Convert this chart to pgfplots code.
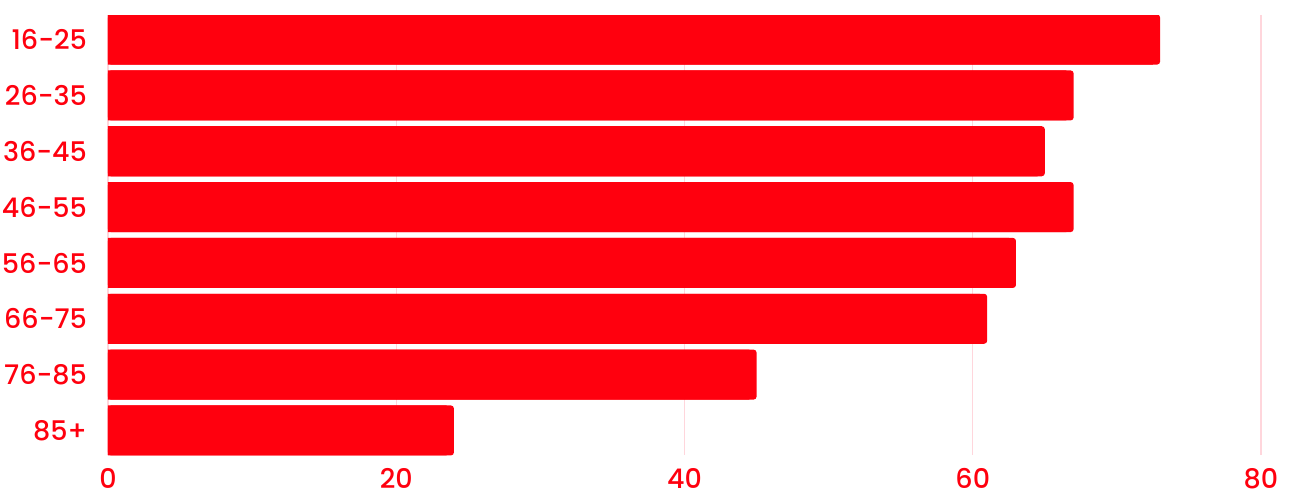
\documentclass[border=0pt]{standalone}
\usepackage{pgfplots}
\usepackage{pgfplotstable}
\pgfplotsset{compat=1.18}
\usepackage{fontspec}
\setmainfont{Poppins Medium}

\definecolor{barred}{RGB}{255,0,14}
\definecolor{gridpink}{RGB}{255,214,220}

\pgfplotstableread{
idx v
0 73
1 67
2 65
3 67
4 63
5 61
6 45
7 24
}\agedata

\begin{document}
\begin{tikzpicture}
\begin{axis}[
  scale only axis,
  width=576.5pt, height=220pt,
  xbar, bar width=25pt, bar shift=0pt,
  xmin=0, xmax=80,
  ymin=-0.44, ymax=7.44,
  y dir=reverse,
  axis line style={draw=none},
  xtick={0,20,40,60,80},
  ytick={0,...,7},
  yticklabels={16-25,26-35,36-45,46-55,56-65,66-75,76-85,85+},
  xmajorgrids, ymajorgrids=false,
  grid style={gridpink, line width=0.6pt},
  tick style={draw=none},
  major tick length=0pt,
  /pgf/number format/assume math mode=true,
  ticklabel style={text=barred, font=\fontsize{13.5}{13.5}\selectfont},
  xticklabel style={inner sep=0pt, yshift=-6.5pt},
  yticklabel style={xshift=-7pt},
]
% rounded bar ends, then a square overlay that keeps the left edges straight
\addplot[fill=barred, draw=none, rounded corners=1.5pt] table[x=v, y=idx] {\agedata};
\addplot[fill=barred, draw=none] table[x expr=\thisrow{v}-0.5, y=idx] {\agedata};
\end{axis}
\pgfresetboundingbox
\path[use as bounding box] (current axis.south west) ++(-54pt,-19.5pt) rectangle ([shift={(15.5pt,7.5pt)}]current axis.north east);
\end{tikzpicture}
\end{document}
